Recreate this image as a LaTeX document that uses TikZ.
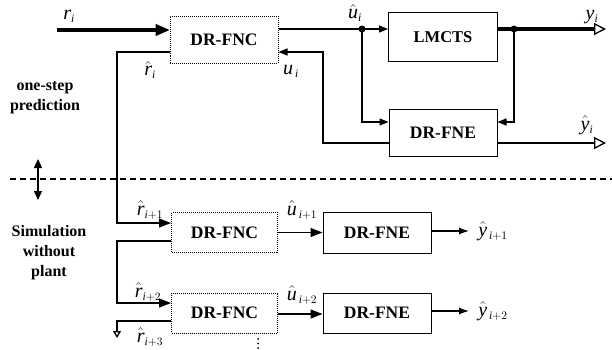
\RequirePackage{fix-cm}
\documentclass[tikz,border=0pt]{standalone}
\usepackage{fontspec}
\setmainfont{Liberation Serif}
% math letters in the serif italic of the text
\DeclareSymbolFont{letters}{TU}{\rmdefault}{m}{it}
\DeclareMathSizes{20}{20}{11.5}{9}
\usetikzlibrary{arrows.meta,calc}

\newcommand\boxfont{\fontsize{17.5}{19}\selectfont\bfseries}
\newcommand\labfont{\fontsize{20}{22}\selectfont}
\newcommand\sidefont{\fontsize{16}{20}\selectfont\bfseries}

\tikzset{
  fncbox/.style={draw, densely dotted, line width=1pt, inner sep=0pt,
                 minimum width=106pt, minimum height=40pt, font=\boxfont},
  fnebox/.style={draw, line width=1pt, inner sep=0pt,
                 minimum width=108pt, minimum height=41pt, font=\boxfont},
  wire/.style={line width=1.3pt},
  fat/.style={line width=4.5pt},
  tip/.style={-{Triangle[length=9pt,width=7pt]}},
  bigtip/.style={-{Triangle[length=12pt,width=9pt]}},
  opentip/.style={-{Triangle[open,length=12pt,width=12pt]}},
  outtip/.style={-{Latex[length=10pt,width=7pt]}},
  dot/.style={circle, fill, inner sep=0pt, minimum size=7pt},
  vdot/.style={circle, fill, inner sep=0pt, minimum size=2pt},
  lab/.style={font=\labfont, inner sep=0pt},
  side/.style={font=\sidefont, align=center, inner sep=0pt}
}

\begin{document}
\begin{tikzpicture}[x=1pt,y=-1pt]
  \useasboundingbox (0,0) rectangle (612,350);

  % one-step prediction loop
  \node[fncbox, minimum width=108pt, minimum height=47pt] (fnc1) at (224,40) {DR-FNC};
  \node[fnebox, minimum width=109pt, minimum height=49pt,
        font=\fontsize{16.5}{19}\selectfont\bfseries] (lmcts) at (443,37.5) {LMCTS};
  \node[fnebox, minimum height=47pt] (fne1) at (443,132.5) {DR-FNE};

  % simulation chain
  \node[fncbox] (fnc2) at (224.5,232.5) {DR-FNC};
  \node[fncbox] (fnc3) at (224.5,313) {DR-FNC};
  \node[fnebox] (fne2) at (377,232.5) {DR-FNE};
  \node[fnebox, minimum height=40pt] (fne3) at (377,313) {DR-FNE};

  % junctions
  \node[dot] (uj) at (362,29) {};
  \node[dot] (yj) at (514,29) {};

  % free ends and bends
  \coordinate (rin) at (57,30);
  \coordinate (rhead) at (157,30);
  \coordinate (ytip) at (606,29);
  \coordinate (yhead) at (594,29);
  \coordinate (yhtip) at (606,143);
  \coordinate (lx) at (117,0);
  \coordinate (ux) at (323,0);
  \coordinate (rdown) at (117,338);
  \coordinate (y1tip) at (469,231);
  \coordinate (y2tip) at (469,311);
  \coordinate (arrtop) at (38,159);
  \coordinate (arrbot) at (38,200);
  \coordinate (dashl) at (10,179);
  \coordinate (dashr) at (612,179);

  \coordinate (fnc1in) at ([yshift=10pt]fnc1.west);
  \coordinate (fnc1out) at ([yshift=11pt]fnc1.east);
  \coordinate (fnc1uin) at ([yshift=-12pt]fnc1.east);
  \coordinate (fnc1rout) at ([yshift=-12pt]fnc1.west);
  \coordinate (fne1lin) at ([yshift=10.5pt]fne1.west);
  \coordinate (fne1rin) at ([yshift=10.5pt]fne1.east);
  \coordinate (fne1lout) at ([yshift=-10.5pt]fne1.west);
  \coordinate (fne1rout) at ([yshift=-10.5pt]fne1.east);
  \coordinate (fnc2in) at ([yshift=9.5pt]fnc2.west);
  \coordinate (fnc2rout) at ([yshift=-8.5pt]fnc2.west);
  \coordinate (fnc3in) at ([yshift=10pt]fnc3.west);
  \coordinate (fnc3rout) at ([yshift=-8pt]fnc3.west);

  % reference input
  \draw[fat] (rin) -- (rhead);
  \draw[wire, -{Triangle[length=14pt,width=12pt]}] ([xshift=-2pt]rhead) -- (fnc1in);

  % control signal to plant and estimator
  \draw[wire] (fnc1out) -- (uj.center);
  \draw[wire, tip] (uj.center) -- (uj -| lmcts.west);
  \draw[wire, tip] (uj.center) |- (fne1lin);

  % plant output
  \draw[fat] (yj -| lmcts.east) -- (yhead);
  \draw[wire, opentip] (yhead) -- (ytip);
  \draw[wire, tip] (yj.center) |- (fne1rin);

  % estimator outputs
  \draw[wire, opentip] (fne1rout) -- (yhtip);
  \draw[wire, tip] (fne1lout) -| (ux |- fnc1uin) -- (fnc1uin);

  % predicted references handed down the chain
  \draw[wire, bigtip] (fnc1rout) -| (lx |- fnc2in) -- (fnc2in);
  \draw[wire, bigtip] (fnc2rout) -| (lx |- fnc3in) -- (fnc3in);
  \draw[wire, -{Triangle[open,length=7pt,width=8pt]}] (fnc3rout) -| (rdown);

  % simulated controls and outputs
  \draw[wire, bigtip] (fnc2.east |- fne2) -- (fne2.west);
  \draw[wire, bigtip] ([yshift=-1pt]fnc3.east) -- ([yshift=-1pt]fne3.west);
  \draw[wire, outtip] (fne2.east |- y1tip) -- (y1tip);
  \draw[wire, outtip] (fne3.east |- y2tip) -- (y2tip);

  % separator
  \draw[wire, dash pattern=on 6pt off 4pt] (dashl) -- (dashr);
  \draw[wire, {Triangle[length=9pt,width=8pt]}-{Triangle[length=9pt,width=8pt]}] (arrtop) -- (arrbot);

  % continuation dots below the last controller
  \node[vdot] (vd1) at (258,339) {};
  \node[vdot] (vd2) at (258,343.5) {};
  \node[vdot] (vd3) at (258,348) {};

  % signal labels
  \node[lab] (lri) at (69,16) {$r_i$};
  \node[lab] (lrhi) at (150,70) {$\hat r_i$};
  \node[lab] (lui) at (291,71) {$u_{\,i}$};
  \node[lab] (luhi) at (355,13) {$\hat u_i$};
  \node[lab] (lyi) at (592,17) {$y_i$};
  \node[lab] (lyhi) at (587,125) {$\hat y_i$};
  \node[lab] (lr1) at (150,210) {$\hat r_{i+1}$};
  \node[lab] (lu1) at (302,210) {$\hat u_{\,i+1}$};
  \node[lab] (ly1) at (493,231) {$\hat y_{\,i+1}$};
  \node[lab] (lr2) at (148,292) {$\hat r_{i+2}$};
  \node[lab] (lu2) at (302,295) {$\hat u_{\,i+2}$};
  \node[lab] (ly2) at (493,311) {$\hat y_{\,i+2}$};
  \node[lab] (lr3) at (150,337) {$\hat r_{i+3}$};

  % phase labels
  \node[side] (one) at (45,98) {one-step\\prediction};
  \node[side] (sim) at (49,253) {Simulation\\without\\plant};
\end{tikzpicture}
\end{document}
